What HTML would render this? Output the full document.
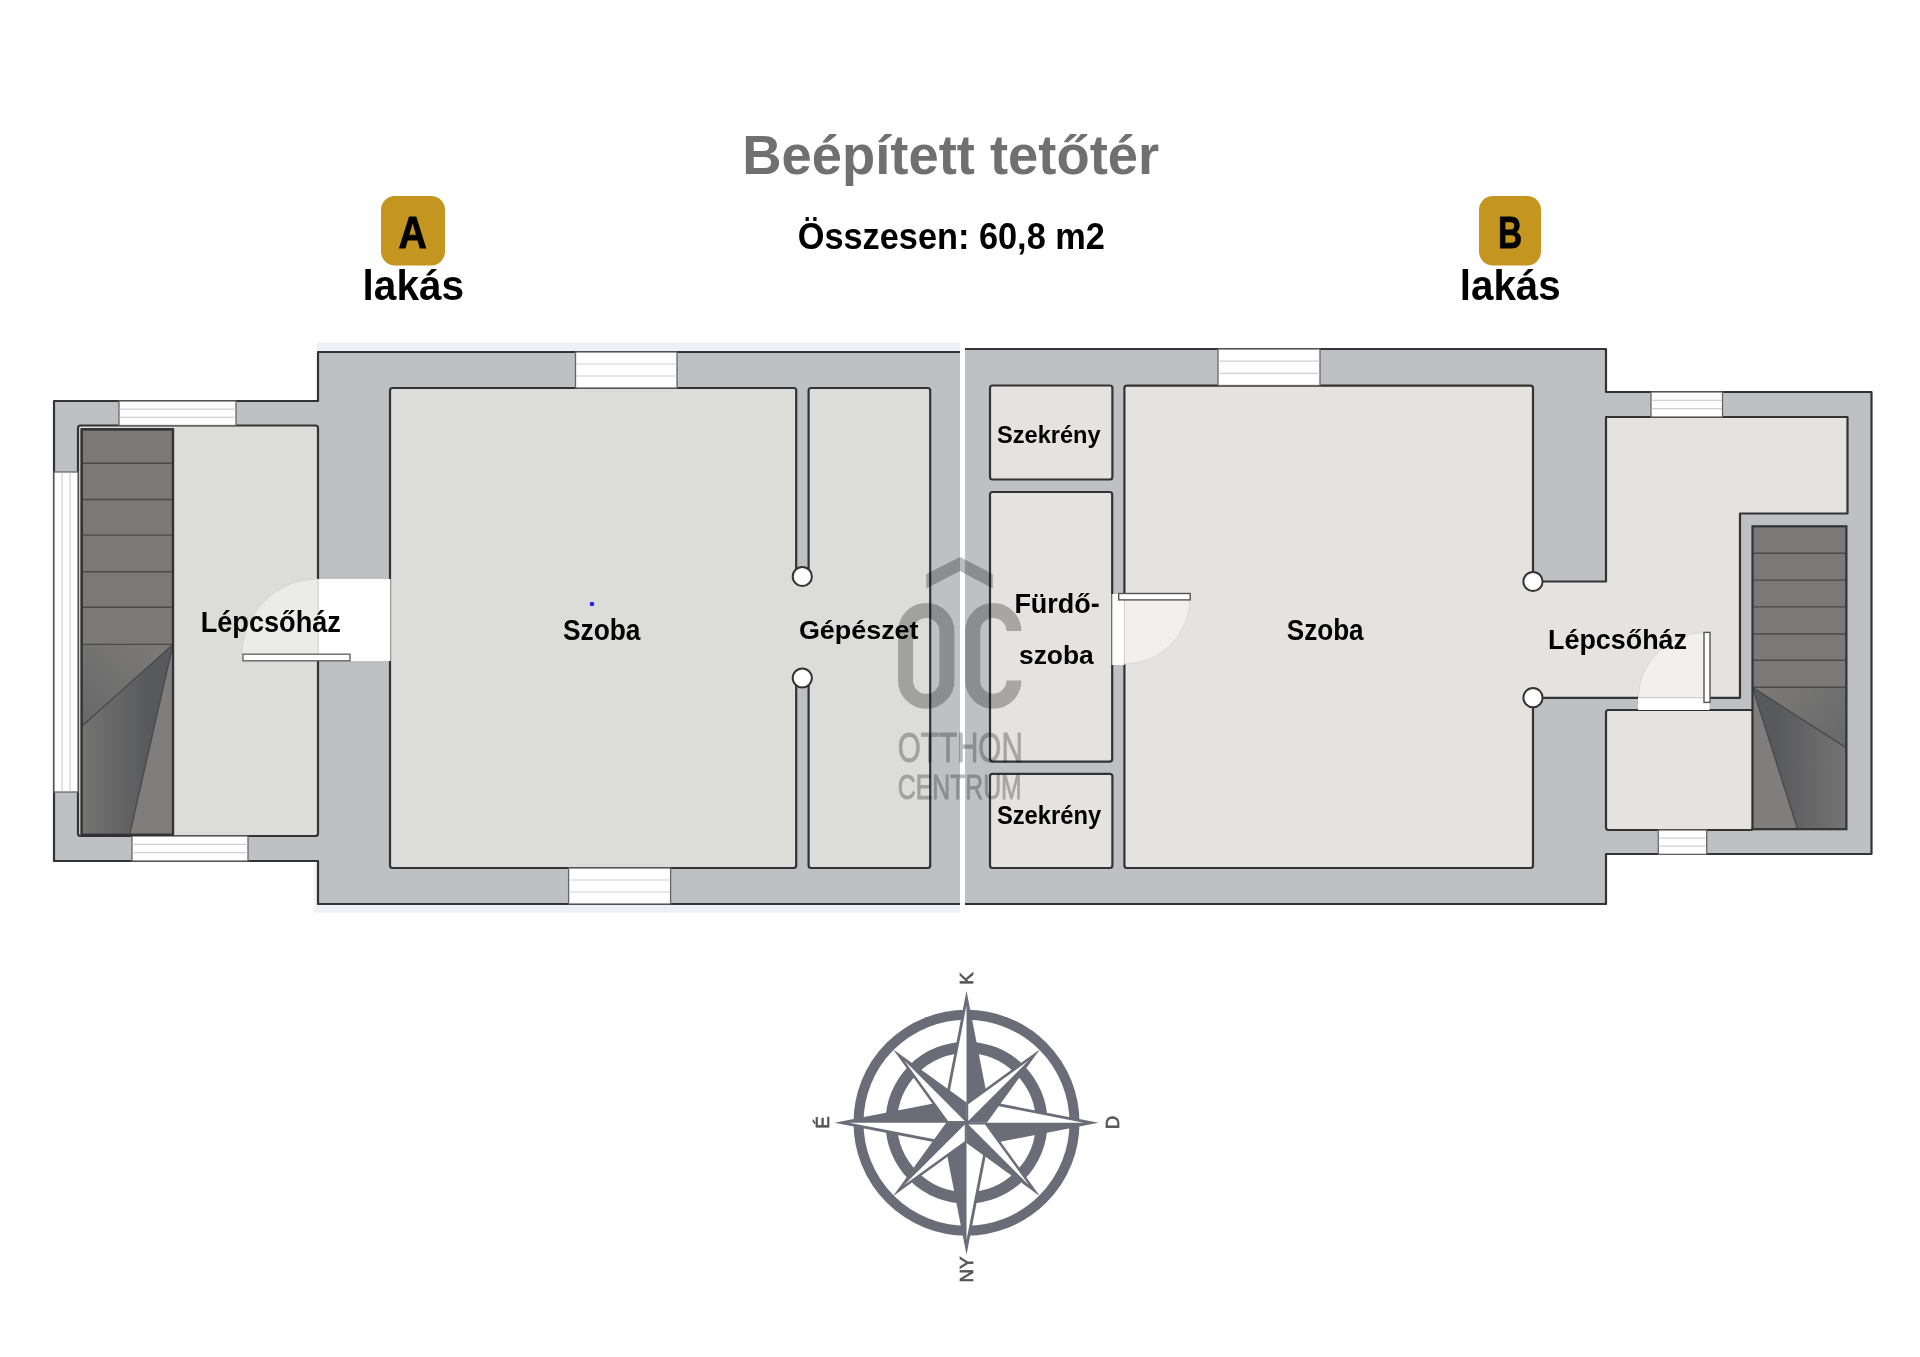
<!DOCTYPE html>
<html><head><meta charset="utf-8"><title>Beépített tetőtér</title>
<style>
html,body{margin:0;padding:0;background:#fff;width:1920px;height:1357px;overflow:hidden}
svg{display:block}
text{font-family:"Liberation Sans",sans-serif;font-weight:bold}
.ln{fill:none;stroke:#333;stroke-width:2.2;stroke-linejoin:round}
.wall{fill:#bfc0c4}
.fa{fill:#dcdcda;stroke:#333;stroke-width:2.2;stroke-linejoin:round}
.fb{fill:#e4e3df;stroke:#333;stroke-width:2.2;stroke-linejoin:round}
.win{fill:#fff;stroke:#666;stroke-width:1.3}
.wl{stroke:#d0d0d0;stroke-width:1.2}
.lbl{fill:#000}
</style></head>
<body>
<svg width="1920" height="1357" viewBox="0 0 1920 1357">
<defs>
<linearGradient id="gA" x1="81.7" y1="0" x2="150" y2="0" gradientUnits="userSpaceOnUse"><stop offset="0" stop-color="#757473"/><stop offset="1" stop-color="#58595c"/></linearGradient>
<linearGradient id="gA2" x1="150" y1="650" x2="90" y2="720" gradientUnits="userSpaceOnUse"><stop offset="0" stop-color="#7a7977"/><stop offset="1" stop-color="#69696a"/></linearGradient>
<linearGradient id="gB" x1="1846" y1="0" x2="1775" y2="0" gradientUnits="userSpaceOnUse"><stop offset="0" stop-color="#757473"/><stop offset="1" stop-color="#58595c"/></linearGradient>
<linearGradient id="gB2" x1="1770" y1="690" x2="1840" y2="745" gradientUnits="userSpaceOnUse"><stop offset="0" stop-color="#7a7977"/><stop offset="1" stop-color="#69696a"/></linearGradient>
</defs>
<rect x="0" y="0" width="1920" height="1357" fill="#fff"/>

<!-- HEADER -->
<text x="742.30" y="174.1" font-size="55.67" fill="#707070" textLength="416.83" lengthAdjust="spacingAndGlyphs">Beépített tetőtér</text>
<text x="797.70" y="248.7" font-size="37.52" fill="#000" textLength="307.22" lengthAdjust="spacingAndGlyphs">Összesen: 60,8 m2</text>

<rect x="381" y="196" width="64" height="69.5" rx="14" fill="#c4951f"/>
<text x="398.51" y="247.9" font-size="44.77" fill="#000" stroke="#000" stroke-width="0.9" textLength="28.31" lengthAdjust="spacingAndGlyphs">A</text>
<text x="362.60" y="299.7" font-size="41.95" fill="#000" textLength="101.51" lengthAdjust="spacingAndGlyphs">lakás</text>

<rect x="1479" y="196" width="62" height="69.5" rx="14" fill="#c4951f"/>
<text x="1498.12" y="248.0" font-size="45.06" fill="#000" stroke="#000" stroke-width="0.9" textLength="24.12" lengthAdjust="spacingAndGlyphs">B</text>
<text x="1459.81" y="299.7" font-size="41.95" fill="#000" textLength="100.89" lengthAdjust="spacingAndGlyphs">lakás</text>

<!-- PLAN A -->
<rect x="317" y="342.3" width="643" height="12" fill="#eff0f6"/><rect x="314" y="900" width="646" height="12.5" fill="#eff0f6"/><rect x="314" y="860" width="5" height="45" fill="#f3f4f8"/>
<polygon class="wall" points="318,352 960,352 960,904 318,904 318,861 54,861 54,401 318,401"/>
<polyline class="ln" points="960,352 318,352 318,401 54,401 54,861 318,861 318,904 960,904"/>

<!-- rooms A -->
<rect class="fa" x="78" y="425.5" width="240" height="410.5" rx="2.5"/>
<rect class="fa" x="390" y="388" width="406.2" height="480" rx="2.5"/>
<rect class="fa" x="808.6" y="388" width="121.6" height="480" rx="2.5"/>
<!-- partition opening -->
<rect x="795" y="577" width="15" height="101" fill="#dcdcda"/>
<circle cx="802.3" cy="576.5" r="9.6" fill="#fff" stroke="#333" stroke-width="2"/>
<circle cx="802.3" cy="678" r="9.6" fill="#fff" stroke="#333" stroke-width="2"/>

<!-- windows A -->
<g>
<rect class="win" x="575.5" y="352" width="101.5" height="36"/>
<line class="wl" x1="576" y1="364" x2="676.5" y2="364"/><line class="wl" x1="576" y1="376" x2="676.5" y2="376"/>
<rect class="win" x="568.6" y="868" width="102" height="36"/>
<line class="wl" x1="569" y1="880" x2="670" y2="880"/><line class="wl" x1="569" y1="892" x2="670" y2="892"/>
<rect class="win" x="119" y="401" width="117" height="24.5"/>
<line class="wl" x1="119.5" y1="409.2" x2="235.5" y2="409.2"/><line class="wl" x1="119.5" y1="417.3" x2="235.5" y2="417.3"/>
<rect class="win" x="132" y="836" width="116" height="25"/>
<line class="wl" x1="132.5" y1="844.3" x2="247.5" y2="844.3"/><line class="wl" x1="132.5" y1="852.6" x2="247.5" y2="852.6"/>
<rect class="win" x="54" y="472" width="24" height="320"/>
<line class="wl" x1="62" y1="472.5" x2="62" y2="791.5"/><line class="wl" x1="70" y1="472.5" x2="70" y2="791.5"/>
</g>

<!-- door A -->
<rect x="318" y="579" width="72" height="82" fill="#fff"/>
<line x1="318" y1="579" x2="318" y2="661" stroke="#c8c8c8" stroke-width="1"/>
<path d="M318,655 L318,579 A76,76 0 0 0 242,655 Z" fill="#ebebea" stroke="#cfcfcf" stroke-width="0.8"/>
<line x1="390.8" y1="579" x2="390.8" y2="661" stroke="#c8c8c8" stroke-width="1"/>
<rect x="243" y="654.2" width="107" height="6.6" fill="#fff" stroke="#666" stroke-width="1.4"/>

<!-- stairs A -->
<g>
<rect x="81.7" y="429.3" width="91.3" height="405.4" fill="#7a7977" stroke="#333" stroke-width="2.2"/>
<polygon points="173,644.4 81.7,644.4 81.7,726.4" fill="url(#gA2)"/><polygon points="173,644.4 81.7,726.4 81.7,834.7 129.6,834.7" fill="url(#gA)"/>
<polygon points="173,644.4 129.6,834.7 173,834.7" fill="#7f7e7c"/>
<g stroke="#4a4a4a" stroke-width="1.4">
<line x1="82" y1="463.3" x2="173" y2="463.3"/><line x1="82" y1="499.5" x2="173" y2="499.5"/>
<line x1="82" y1="535.1" x2="173" y2="535.1"/><line x1="82" y1="571.7" x2="173" y2="571.7"/>
<line x1="82" y1="607.2" x2="173" y2="607.2"/><line x1="82" y1="644.4" x2="173" y2="644.4"/>
<line x1="173" y1="644.4" x2="81.7" y2="726.4"/><line x1="173" y1="644.4" x2="129.6" y2="834.7"/>
</g>
<rect x="81.7" y="429.3" width="91.3" height="405.4" fill="none" stroke="#333" stroke-width="2.2"/>
</g>

<!-- labels A -->
<text class="lbl" x="200.70" y="631.7" font-size="29.07" fill="#000" textLength="140.22" lengthAdjust="spacingAndGlyphs">Lépcsőház</text>
<text class="lbl" x="562.99" y="639.7" font-size="29.65" fill="#000" textLength="77.41" lengthAdjust="spacingAndGlyphs">Szoba</text>
<text class="lbl" x="798.90" y="638.8" font-size="26.50" fill="#000" textLength="119.61" lengthAdjust="spacingAndGlyphs">Gépészet</text>
<circle cx="592" cy="604" r="2.3" fill="#2323ff"/>

<!-- PLAN B -->
<polygon class="wall" points="965,349 1606,349 1606,392 1871.5,392 1871.5,854 1606,854 1606,904 965,904"/>
<polyline class="ln" points="965,349 1606,349 1606,392 1871.5,392 1871.5,854 1606,854 1606,904 965,904"/>

<!-- rooms B -->
<rect class="fb" x="990" y="385.5" width="122.4" height="94" rx="2.5"/>
<rect class="fb" x="990" y="492" width="122.2" height="269.6" rx="2.5"/>
<rect class="fb" x="990" y="773.8" width="122.4" height="94.2" rx="2.5"/>
<rect class="fb" x="1124.4" y="385.7" width="408.6" height="482.3" rx="2.5"/>
<polygon class="fb" points="1533,581.5 1606,581.5 1606,417 1847.5,417 1847.5,513.5 1740,513.5 1740,697.8 1533,697.8"/>
<rect class="fb" x="1606" y="710" width="147" height="120" rx="2.5"/>
<!-- opening szoba B -> lepcsohaz B -->
<rect x="1530" y="583" width="8" height="113.5" fill="#e4e3df"/>
<circle cx="1533" cy="581.5" r="9.6" fill="#fff" stroke="#333" stroke-width="2"/>
<circle cx="1533" cy="697.7" r="9.6" fill="#fff" stroke="#333" stroke-width="2"/>

<!-- windows B -->
<rect class="win" x="1218" y="349" width="102" height="36.5"/>
<line class="wl" x1="1218.5" y1="361.2" x2="1319.5" y2="361.2"/><line class="wl" x1="1218.5" y1="373.4" x2="1319.5" y2="373.4"/>
<rect class="win" x="1651" y="392" width="71.5" height="25"/>
<line class="wl" x1="1651.5" y1="400.3" x2="1722" y2="400.3"/><line class="wl" x1="1651.5" y1="408.6" x2="1722" y2="408.6"/>
<rect class="win" x="1658.3" y="830" width="48.4" height="24.3"/>
<line class="wl" x1="1658.8" y1="838.1" x2="1706.2" y2="838.1"/><line class="wl" x1="1658.8" y1="846.2" x2="1706.2" y2="846.2"/>

<!-- door fürdő -->
<rect x="1112.2" y="594" width="12.2" height="71" fill="#fff"/>
<line x1="1112.2" y1="594" x2="1112.2" y2="665" stroke="#c8c8c8" stroke-width="1"/>
<path d="M1124.4,598 L1190,598 A66,66 0 0 1 1124.4,664 Z" fill="#f1f0ee" stroke="#d4d4d2" stroke-width="0.8"/>
<rect x="1118.7" y="593.5" width="71.5" height="6.4" fill="#fff" stroke="#555" stroke-width="1.4"/>

<!-- door lepcsohaz B -> small room -->
<rect x="1638" y="697.8" width="71.5" height="12.2" fill="#fff"/>
<path d="M1707,632.5 L1707,697.8 L1638.5,697.8 A68.5,65.3 0 0 1 1707,632.5 Z" fill="#f1f0ee" stroke="#d4d4d2" stroke-width="0.8"/>
<rect x="1704" y="632.4" width="6" height="70" fill="#fff" stroke="#555" stroke-width="1.4"/>

<!-- stairs B -->
<g>
<rect x="1752.5" y="526.3" width="93.9" height="302.9" fill="#7a7977"/>
<polygon points="1752.5,687.3 1846.4,687.3 1846.4,747.9" fill="url(#gB2)"/><polygon points="1752.5,687.3 1846.4,747.9 1846.4,829.2 1797.6,829.2" fill="url(#gB)"/>
<polygon points="1752.5,687.3 1797.6,829.2 1752.5,829.2" fill="#7f7e7c"/>
<g stroke="#4a4a4a" stroke-width="1.4">
<line x1="1753" y1="553.3" x2="1846" y2="553.3"/><line x1="1753" y1="580.1" x2="1846" y2="580.1"/>
<line x1="1753" y1="606.9" x2="1846" y2="606.9"/><line x1="1753" y1="634" x2="1846" y2="634"/>
<line x1="1753" y1="660.2" x2="1846" y2="660.2"/><line x1="1753" y1="687.3" x2="1846" y2="687.3"/>
<line x1="1752.5" y1="687.3" x2="1846.4" y2="747.9"/><line x1="1752.5" y1="687.3" x2="1797.6" y2="829.2"/>
</g>
<rect x="1752.5" y="526.3" width="93.9" height="302.9" fill="none" stroke="#333" stroke-width="2.2"/>
</g>

<!-- labels B -->
<text class="lbl" x="997.00" y="443.0" font-size="24.35" fill="#000" textLength="103.61" lengthAdjust="spacingAndGlyphs">Szekrény</text>
<text class="lbl" x="996.89" y="823.9" font-size="25.06" fill="#000" textLength="104.22" lengthAdjust="spacingAndGlyphs">Szekrény</text>
<text class="lbl" x="1014.39" y="613.4" font-size="27.91" fill="#000" textLength="85.44" lengthAdjust="spacingAndGlyphs">Fürdő-</text>
<text class="lbl" x="1019.00" y="664.2" font-size="26.50" fill="#000" textLength="74.80" lengthAdjust="spacingAndGlyphs">szoba</text>
<text class="lbl" x="1286.80" y="639.5" font-size="29.07" fill="#000" textLength="76.80" lengthAdjust="spacingAndGlyphs">Szoba</text>
<text class="lbl" x="1548.01" y="649.2" font-size="28.49" fill="#000" textLength="139.01" lengthAdjust="spacingAndGlyphs">Lépcsőház</text>


<!-- WATERMARK -->
<g style="mix-blend-mode:multiply">
<polygon points="926.25,574 960,557 992.8,574 992.8,588.6 960,571 926.25,588.6" fill="#bbbbbb"/>
<rect x="905.6" y="610.4" width="41.3" height="90.9" rx="20.65" fill="none" stroke="#bbbbbb" stroke-width="15"/>
<path d="M1013.9,631 A20.6,20.6 0 0 0 972.7,631 L972.7,680.6 A20.6,20.6 0 0 0 1013.9,680.6" fill="none" stroke="#bbbbbb" stroke-width="15"/>
<text x="897.75" y="761.6" font-size="42.39" style="font-weight:normal" fill="#bbbbbb" stroke="#bbbbbb" stroke-width="0.9" textLength="125.05" lengthAdjust="spacingAndGlyphs">OTTHON</text>
<text x="897.76" y="798.75" font-size="35.02" style="font-weight:normal" fill="#bbbbbb" stroke="#bbbbbb" stroke-width="0.9" textLength="124.04" lengthAdjust="spacingAndGlyphs">CENTRUM</text>
</g>


<!-- COMPASS -->
<g>
<circle cx="966.5" cy="1122.7" r="108" fill="none" stroke="#6b6c78" stroke-width="10"/>
<circle cx="966.5" cy="1122.7" r="75.2" fill="none" stroke="#6b6c78" stroke-width="11.7"/>
<polygon points="966.50,990.70 988.00,1101.20 966.50,1122.70 945.00,1101.20" fill="#6b6c78"/>
<polygon points="966.50,1005.36 947.84,1101.27 966.50,1119.93" fill="#fff"/>
<polygon points="1098.50,1122.70 988.00,1144.20 966.50,1122.70 988.00,1101.20" fill="#6b6c78"/>
<polygon points="1083.84,1122.70 987.93,1104.04 969.27,1122.70" fill="#fff"/>
<polygon points="966.50,1254.70 945.00,1144.20 966.50,1122.70 988.00,1144.20" fill="#6b6c78"/>
<polygon points="966.50,1240.04 985.16,1144.13 966.50,1125.47" fill="#fff"/>
<polygon points="834.50,1122.70 945.00,1101.20 966.50,1122.70 945.00,1144.20" fill="#6b6c78"/>
<polygon points="849.16,1122.70 945.07,1141.36 963.73,1122.70" fill="#fff"/>
<polygon points="1040.04,1049.16 986.80,1122.70 966.50,1122.70 966.50,1102.40" fill="#6b6c78"/>
<polygon points="1028.86,1060.34 968.25,1104.22 968.25,1120.95" fill="#fff"/>
<polygon points="1040.04,1196.24 966.50,1143.00 966.50,1122.70 986.80,1122.70" fill="#6b6c78"/>
<polygon points="1028.86,1185.06 984.98,1124.45 968.25,1124.45" fill="#fff"/>
<polygon points="892.96,1196.24 946.20,1122.70 966.50,1122.70 966.50,1143.00" fill="#6b6c78"/>
<polygon points="904.14,1185.06 964.75,1141.18 964.75,1124.45" fill="#fff"/>
<polygon points="892.96,1049.16 966.50,1102.40 966.50,1122.70 946.20,1122.70" fill="#6b6c78"/>
<polygon points="904.14,1060.34 948.02,1120.95 964.75,1120.95" fill="#fff"/>
</g>
<text transform="translate(973.4,978.4) rotate(-90)" text-anchor="middle" font-size="18.7" style="font-weight:normal" fill="#555" stroke="#555" stroke-width="0.7">K</text>
<text transform="translate(828.9,1122.5) rotate(-90)" text-anchor="middle" font-size="18.7" style="font-weight:normal" fill="#555" stroke="#555" stroke-width="0.7">É</text>
<text transform="translate(1118.6,1122.5) rotate(-90)" text-anchor="middle" font-size="18.7" style="font-weight:normal" fill="#555" stroke="#555" stroke-width="0.7">D</text>
<text transform="translate(973.3,1269.5) rotate(-90)" text-anchor="middle" font-size="18.7" style="font-weight:normal" fill="#555" stroke="#555" stroke-width="0.7">NY</text>
</svg>
</body></html>
